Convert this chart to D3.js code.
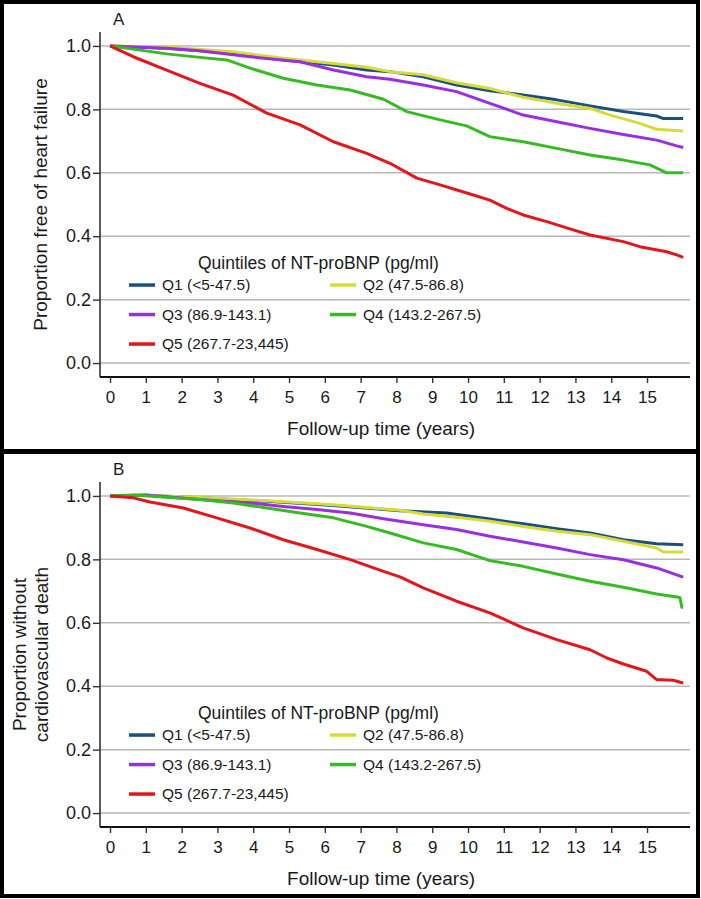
<!DOCTYPE html>
<html><head><meta charset="utf-8">
<script src="https://cdn.jsdelivr.net/npm/d3@7"></script>
<style>body{margin:0;background:#fff}svg{display:block;font-family:"Liberation Sans",Arial,sans-serif}</style>
</head><body><svg id="c" width="701" height="899"></svg>
<script>
// ---- data ----
const seriesNames = ["Q1 (<5-47.5)", "Q2 (47.5-86.8)", "Q3 (86.9-143.1)", "Q4 (143.2-267.5)", "Q5 (267.7-23,445)"];
const seriesColors = ["#1b4f7e", "#d5dc3a", "#9a2fe2", "#37bb24", "#e5151c"];
const xTicks = [0,1,2,3,4,5,6,7,8,9,10,11,12,13,14,15];
const yTicks = [0.0, 0.2, 0.4, 0.6, 0.8, 1.0];
const legendTitle = "Quintiles of NT-proBNP (pg/ml)";
const xTitle = "Follow-up time (years)";

// Panel A: heart failure-free
const hfQ1 = [[0,1],[0.65,0.997],[1.58,0.993],[2.51,0.985],[3.44,0.975],[4.84,0.956],[6.24,0.940],[7.17,0.924],[7.82,0.919],[8.75,0.903],[9.68,0.877],[10.61,0.859],[11.54,0.845],[12.48,0.830],[13.41,0.811],[14.34,0.793],[15.27,0.779],[15.46,0.771],[16.01,0.771]];
const hfQ2 = [[0,1],[1.58,0.997],[3.44,0.982],[4.84,0.961],[6.24,0.945],[7.17,0.933],[7.82,0.919],[8.75,0.909],[9.68,0.884],[10.61,0.866],[11.54,0.838],[12.48,0.819],[13.41,0.803],[13.97,0.782],[14.8,0.756],[15.27,0.737],[16.01,0.732]];
const hfQ3 = [[0,1],[1.58,0.993],[2.51,0.985],[3.91,0.966],[5.31,0.950],[6.24,0.924],[7.17,0.903],[7.82,0.895],[8.75,0.877],[9.68,0.856],[10.61,0.819],[11.54,0.782],[12.48,0.761],[13.41,0.740],[14.34,0.721],[15.27,0.703],[15.83,0.685],[16.01,0.680]];
const hfQ4 = [[0,1],[0.65,0.990],[1.58,0.975],[2.51,0.964],[3.26,0.956],[3.91,0.930],[4.84,0.898],[5.78,0.877],[6.71,0.861],[7.64,0.832],[8.29,0.793],[9.22,0.767],[9.96,0.748],[10.61,0.714],[11.54,0.698],[12.48,0.677],[13.41,0.656],[14.34,0.640],[15.08,0.625],[15.55,0.600],[16.01,0.600]];
const hfQ5 = [[0,1],[0.65,0.966],[1.58,0.924],[2.51,0.882],[3.44,0.845],[4.38,0.788],[5.31,0.751],[6.24,0.698],[7.17,0.661],[7.82,0.630],[8.57,0.583],[9.22,0.562],[10.15,0.530],[10.61,0.514],[11.08,0.488],[11.54,0.467],[12.2,0.446],[12.94,0.420],[13.41,0.404],[14.34,0.383],[14.8,0.367],[15.55,0.351],[15.83,0.341],[16.01,0.333]];

// Panel B: without cardiovascular death
const cvQ1 = [[0,1],[1.0,1.002],[2.51,0.994],[4.38,0.983],[6.24,0.970],[8.1,0.953],[9.4,0.946],[10.61,0.927],[11.54,0.912],[12.48,0.897],[13.41,0.883],[14.34,0.862],[15.27,0.849],[16.01,0.846]];
const cvQ2 = [[0,1],[1.0,1.002],[2.51,0.995],[4.38,0.985],[6.24,0.972],[8.1,0.955],[8.75,0.943],[9.68,0.933],[10.61,0.920],[11.54,0.904],[12.48,0.889],[13.41,0.878],[14.34,0.857],[15.27,0.836],[15.46,0.823],[16.01,0.823]];
const cvQ3 = [[0,1],[1.0,1.003],[2.51,0.989],[3.91,0.978],[4.84,0.967],[5.78,0.957],[6.71,0.946],[7.64,0.928],[8.1,0.920],[8.75,0.909],[9.68,0.894],[10.61,0.873],[11.54,0.855],[12.48,0.836],[13.41,0.815],[14.34,0.799],[15.27,0.773],[16.01,0.744]];
const cvQ4 = [[0,1],[0.65,1.003],[1.58,0.996],[2.51,0.989],[3.44,0.978],[4.38,0.962],[5.31,0.946],[6.24,0.931],[7.17,0.904],[7.82,0.883],[8.75,0.852],[9.68,0.831],[10.61,0.796],[11.54,0.778],[12.48,0.754],[13.41,0.731],[14.34,0.712],[15.27,0.691],[15.92,0.680],[15.97,0.649],[16.01,0.649]];
const cvQ5 = [[0,1],[0.65,0.994],[1.12,0.981],[2.05,0.962],[2.98,0.931],[3.91,0.899],[4.84,0.862],[5.78,0.831],[6.71,0.799],[7.64,0.762],[8.1,0.745],[8.75,0.710],[9.68,0.668],[10.61,0.631],[11.54,0.584],[12.48,0.547],[13.41,0.515],[13.88,0.489],[14.34,0.470],[14.99,0.447],[15.27,0.421],[15.73,0.419],[16.01,0.410]];

const panels = [
  {label:"A", yTitle:["Proportion free of heart failure"], series:[hfQ1,hfQ2,hfQ3,hfQ4,hfQ5], top:0},
  {label:"B", yTitle:["Proportion without","cardiovascular death"], series:[cvQ1,cvQ2,cvQ3,cvQ4,cvQ5], top:450}
];

const svg = d3.select("#c");
svg.append("rect").attr("width",701).attr("height",899).attr("fill","#fff");

panels.forEach(p => {
  const g = svg.append("g").attr("transform", `translate(0,${p.top})`);
  const x = d3.scaleLinear().domain([-0.28, 16.2]).range([100, 690]);
  const y = d3.scaleLinear().domain([-0.044, 1.044]).range([377, 32]);

  // gridlines
  g.append("g").selectAll("line").data(yTicks).join("line")
    .attr("x1", 100).attr("x2", 690)
    .attr("y1", d => y(d)).attr("y2", d => y(d))
    .attr("stroke", "#b8b8b8").attr("stroke-width", 1.5);

  // y axis
  const ya = g.append("g").attr("transform","translate(100,0)")
    .call(d3.axisLeft(y).tickValues(yTicks).tickFormat(d3.format(".1f")).tickSize(7).tickPadding(2));
  ya.select(".domain").attr("stroke","#333").attr("stroke-width",1.6).attr("d", `M0,${y.range()[1]}V${y.range()[0]}`);
  ya.selectAll(".tick line").attr("stroke","#333").attr("stroke-width",1.4);
  ya.selectAll("text").attr("font-size","18px").attr("fill","#1a1a1a").attr("font-family","Liberation Sans, Arial, sans-serif");

  // x axis
  const xa = g.append("g").attr("transform","translate(0,377)")
    .call(d3.axisBottom(x).tickValues(xTicks).tickFormat(d3.format("d")).tickSize(6).tickPadding(8));
  xa.select(".domain").attr("stroke","#111").attr("stroke-width",1.8).attr("d","M100,0H690");
  xa.selectAll(".tick line").attr("stroke","#333").attr("stroke-width",1.4);
  xa.selectAll("text").attr("font-size","17px").attr("fill","#1a1a1a").attr("font-family","Liberation Sans, Arial, sans-serif");

  // curves
  const line = d3.line().x(d => x(d[0])).y(d => y(d[1])).curve(d3.curveLinear);
  p.series.forEach((s, i) => {
    g.append("path").datum(s).attr("d", line).attr("fill","none")
      .attr("stroke", seriesColors[i]).attr("stroke-width", 3).attr("stroke-linejoin","round");
  });

  // panel letter
  g.append("text").attr("x",113).attr("y",25).text(p.label)
    .attr("font-size","17px").attr("fill","#1a1a1a");

  // axis titles
  g.append("text").attr("x",381).attr("y",428).attr("dy","0.35em").attr("text-anchor","middle")
    .attr("font-size","19px").attr("fill","#1a1a1a").text(xTitle);
  const yc = (y(0)+y(1))/2;
  if (p.yTitle.length === 1) {
    g.append("text").attr("transform",`translate(40,${yc}) rotate(-90)`).attr("dy","0.35em")
      .attr("text-anchor","middle").attr("font-size","19px").attr("fill","#1a1a1a").text(p.yTitle[0]);
  } else {
    p.yTitle.forEach((t, k) => {
      g.append("text").attr("transform",`translate(${19 + k*22},${yc}) rotate(-90)`).attr("dy","0.35em")
        .attr("text-anchor","middle").attr("font-size","19px").attr("fill","#1a1a1a").text(t);
    });
  }

  // legend
  const y0 = y(0);
  g.append("text").attr("x",198).attr("y",y0-100).attr("dy","0.35em")
    .attr("font-size","17.5px").attr("fill","#1a1a1a").text(legendTitle);
  seriesNames.forEach((n, i) => {
    const col = i % 2, row = Math.floor(i/2);
    const lx = col === 0 ? 129 : 330;
    const ly = y0 - 78 + row*29.5;
    g.append("line").attr("x1",lx).attr("x2",lx+26).attr("y1",ly).attr("y2",ly)
      .attr("stroke",seriesColors[i]).attr("stroke-width",3.5);
    g.append("text").attr("x",lx+33).attr("y",ly).attr("dy","0.35em")
      .attr("font-size","15.5px").attr("fill","#1a1a1a").text(n);
  });
});

// frames
svg.append("rect").attr("x",2).attr("y",2).attr("width",696).attr("height",449)
  .attr("fill","none").attr("stroke","#000").attr("stroke-width",4);
svg.append("rect").attr("x",2).attr("y",452).attr("width",696).attr("height",444)
  .attr("fill","none").attr("stroke","#000").attr("stroke-width",4);
</script>
</body></html>
